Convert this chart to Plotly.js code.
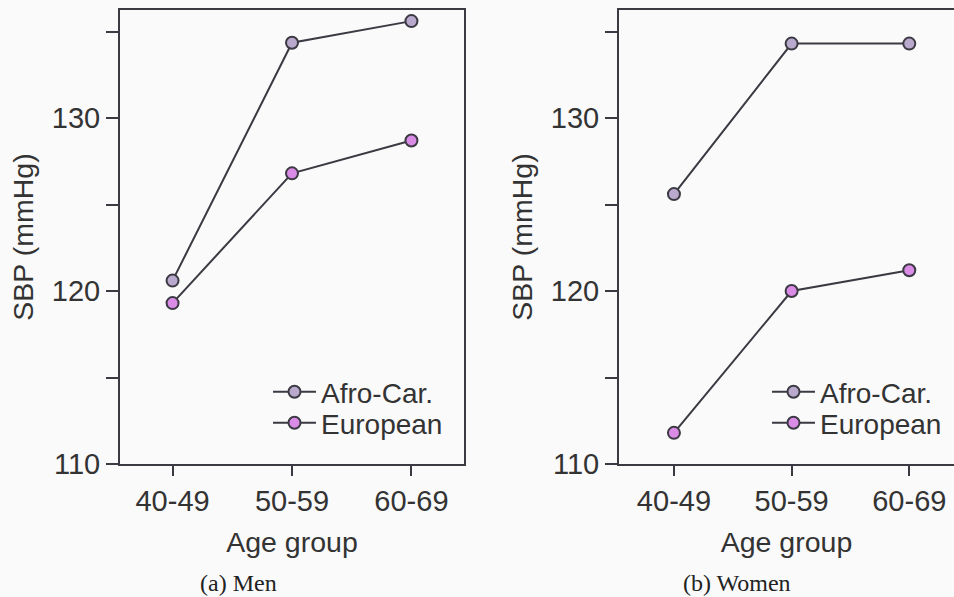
<!DOCTYPE html>
<html>
<head>
<meta charset="utf-8">
<script src="https://cdn.plot.ly/plotly-3.0.1.min.js"></script>
<style>html,body{margin:0;padding:0;background:#fafafa;}#chart{width:954px;height:597px;}</style>
</head>
<body>
<div id="chart"></div>
<script>
var ageGroups = ['40-49', '50-59', '60-69'];
var menAfroCar = [120.6, 134.35, 135.6];
var menEuropean = [119.3, 126.8, 128.7];
var womenAfroCar = [125.6, 134.3, 134.3];
var womenEuropean = [111.8, 120.0, 121.2];
var seriesNames = ['Afro-Car.', 'European'];
var yTickVals = [110, 115, 120, 125, 130, 135];
var yTickText = ['110', '', '120', '', '130', ''];
var captions = ['(a) Men', '(b) Women'];

var W = 954, H = 597;
var lineCol = '#3b3942';
var afroCol = '#b9a9cc';
var euroCol = '#d98be6';
var font = 'Liberation Sans, Arial, Helvetica, sans-serif';
var fsTick = 29, fsTitle = 28.5, fsLeg = 28;

function trace(y, name, color, xa, ya, leg) {
  return {
    x: ageGroups, y: y, name: name, type: 'scatter', mode: 'lines+markers',
    xaxis: xa, yaxis: ya, legend: leg, showlegend: true,
    line: {color: lineCol, width: 2},
    marker: {size: 12, color: color, line: {color: lineCol, width: 2}}
  };
}

var data = [
  trace(menAfroCar, seriesNames[0], afroCol, 'x', 'y', 'legend'),
  trace(menEuropean, seriesNames[1], euroCol, 'x', 'y', 'legend2'),
  trace(womenAfroCar, seriesNames[0], afroCol, 'x2', 'y2', 'legend3'),
  trace(womenEuropean, seriesNames[1], euroCol, 'x2', 'y2', 'legend4')
];

function px(v) { return v / W; }
function py(v) { return (H - v) / H; }

var yTop = 10, yBot = 464;
var yRange = [110, 110 + (yBot - yTop) / 17.3];

function xaxisDef(domain, range, anchor) {
  return {
    domain: domain, range: range, type: 'category', anchor: anchor,
    showline: true, linecolor: lineCol, linewidth: 2, mirror: true,
    ticks: 'outside', ticklen: 10, tickwidth: 2, tickcolor: lineCol,
    showgrid: false, zeroline: false,
    tickfont: {family: font, size: fsTick, color: '#333'},
    title: {text: 'Age group', font: {family: font, size: fsTitle, color: '#333'}, standoff: 16},
    automargin: false, fixedrange: true
  };
}
function yaxisDef(anchor, mirror) {
  return {
    domain: [py(yBot), py(yTop)], range: yRange, anchor: anchor,
    showline: true, linecolor: lineCol, linewidth: 2, mirror: mirror,
    ticks: 'outside', ticklen: 12, tickwidth: 2, tickcolor: lineCol,
    tickvals: yTickVals, ticktext: yTickText,
    showgrid: false, zeroline: false,
    tickfont: {family: font, size: fsTick, color: '#333'},
    title: {text: 'SBP (mmHg)', font: {family: font, size: fsTitle, color: '#333'}, standoff: 10},
    automargin: false, fixedrange: true
  };
}
function legendDef(xMarker, yCenter) {
  return {
    x: px(xMarker - 23), y: py(yCenter), xanchor: 'left', yanchor: 'middle',
    bgcolor: 'rgba(0,0,0,0)', borderwidth: 0, itemwidth: 43,
    font: {family: font, size: fsLeg, color: '#333'}
  };
}

var layout = {
  width: W, height: H,
  margin: {l: 0, r: 0, t: 0, b: 0, pad: 0},
  paper_bgcolor: '#fafafa', plot_bgcolor: '#fafafa',
  font: {family: font, size: fsTick, color: '#333'},
  xaxis: xaxisDef([px(120), px(464)], [-0.44, 2.44], 'y'),
  yaxis: yaxisDef('x', true),
  xaxis2: xaxisDef([px(619), 1], [-0.467, 2.38], 'y2'),
  yaxis2: yaxisDef('x2', false),
  legend: legendDef(291, 392),
  legend2: legendDef(291, 423),
  legend3: legendDef(790, 392),
  legend4: legendDef(790, 423),
  annotations: [
    {text: captions[0], xref: 'paper', yref: 'paper', x: px(238), y: py(583), xanchor: 'center', yanchor: 'middle', showarrow: false,
     font: {family: 'Liberation Serif, Times New Roman, serif', size: 24, color: '#222'}},
    {text: captions[1], xref: 'paper', yref: 'paper', x: px(737), y: py(583), xanchor: 'center', yanchor: 'middle', showarrow: false,
     font: {family: 'Liberation Serif, Times New Roman, serif', size: 24, color: '#222'}}
  ],
  showlegend: true
};

Plotly.newPlot('chart', data, layout, {displayModeBar: false, staticPlot: true});
</script>
</body>
</html>
